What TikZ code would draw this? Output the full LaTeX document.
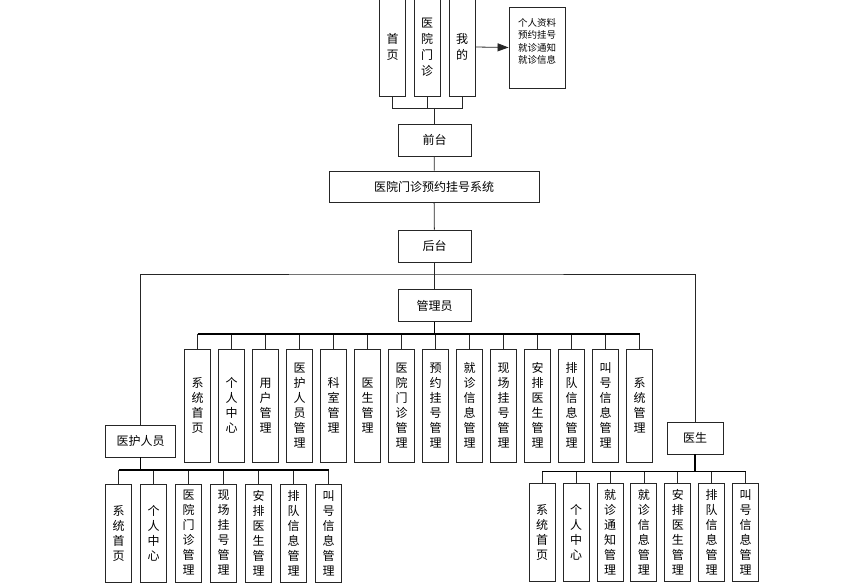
\documentclass[tikz,border=0pt]{standalone}
\usepackage{fontspec}
\setmainfont{Noto Sans CJK SC}
\usetikzlibrary{arrows.meta}
\begin{document}
\begin{tikzpicture}[x=1pt,y=-1pt,
  every node/.style={font=\fontsize{12}{15}\selectfont, inner sep=0pt},
  box/.style={draw=black!85, line width=0.9pt, fill=white, align=center},
  hbox/.style={box, minimum height=32pt},
  vbox/.style={box, minimum width=26pt, minimum height=113pt},
  lbox/.style={box, minimum width=26pt, minimum height=98pt},
  tbox/.style={box, minimum width=26pt, minimum height=98pt, font=\fontsize{12}{16}\selectfont},
  ln/.style={draw=black!85, line width=0.8pt},
  bus/.style={draw=black, line width=1.3pt}]
\useasboundingbox (0,0) rectangle (844,586);

% top menu
\node[tbox] (t1) at (392.5,47) {首\\页};
\node[tbox] (t2) at (427,47) {医\\院\\门\\诊};
\node[tbox] (t3) at (462,47) {我\\的};
\node[box, minimum width=56pt, minimum height=81pt, font=\fontsize{9.5}{12.3}\selectfont] (info) at (537,47.5)
  {\raisebox{5pt}[\height][\depth]{\begin{tabular}{@{}c@{}}个人资料\\预约挂号\\就诊通知\\就诊信息\end{tabular}}};
\draw[ln, -{Triangle[length=11pt,width=8pt]}] (t3.east) -- (info.west);

\node[hbox, minimum width=73pt] (qt) at (434.5,140) {前台};
\node[box, minimum width=210pt, minimum height=31pt] (sys) at (434,186.5) {医院门诊预约挂号系统};
\node[hbox, minimum width=73pt] (ht) at (434.5,246) {后台};
\node[hbox, minimum width=73pt] (adm) at (434.5,305.5) {管理员};
\node[hbox, minimum width=70pt] (nur) at (140.7,441) {医护人员};
\node[hbox, minimum width=56pt] (doc) at (695,438) {医生};

\coordinate (tj) at (434.5,108);
\draw[ln] (t1.south) -- (t1.south |- tj) -- (t3.south |- tj) -- (t3.south);
\draw[ln] (t2.south) -- (t2.south |- tj);
\draw[ln] (tj) -- (qt.north);
\draw[ln] (qt) -- (sys);
\draw[ln] (sys) -- (ht);

\coordinate (bj) at (434.5,274);
\draw[ln] (ht.south) -- (bj);
\draw[ln] (nur.north) |- (bj) -| (doc.north);
\draw[ln] (bj) -- (adm.north);

% admin children
\coordinate (abus) at (434.5,334);
\foreach \t [count=\i from 0] in {
  {系\\统\\首\\页},{个\\人\\中\\心},{用\\户\\管\\理},{医\\护\\人\\员\\管\\理},
  {科\\室\\管\\理},{医\\生\\管\\理},{医\\院\\门\\诊\\管\\理},{预\\约\\挂\\号\\管\\理},
  {就\\诊\\信\\息\\管\\理},{现\\场\\挂\\号\\管\\理},{安\\排\\医\\生\\管\\理},
  {排\\队\\信\\息\\管\\理},{叫\\号\\信\\息\\管\\理},{系\\统\\管\\理}}
{
  \node[vbox] (a\i) at ({197.5+34*\i},405.5) {\t};
  \draw[ln] (a\i.north) -- (a\i.north |- abus);
}
\draw[bus] (a0.north |- abus) -- (a13.north |- abus);
\draw[bus] (adm.south) -- (abus);

% nurse children
\coordinate (nbus) at (140.7,470);
\foreach \t [count=\i from 0] in {
  {系\\统\\首\\页},{个\\人\\中\\心},{医\\院\\门\\诊\\管\\理},{现\\场\\挂\\号\\管\\理},
  {安\\排\\医\\生\\管\\理},{排\\队\\信\\息\\管\\理},{叫\\号\\信\\息\\管\\理}}
{
  \node[lbox] (n\i) at ({118.7+35*\i},533) {\t};
  \draw[ln] (n\i.north) -- (n\i.north |- nbus);
}
\draw[bus] (n0.north |- nbus) -- (n6.north |- nbus);
\draw[bus] (nur.south) -- (nbus);

% doctor children
\coordinate (dbus) at (695,471.5);
\foreach \t [count=\i from 0] in {
  {系\\统\\首\\页},{个\\人\\中\\心},{就\\诊\\通\\知\\管\\理},{就\\诊\\信\\息\\管\\理},
  {安\\排\\医\\生\\管\\理},{排\\队\\信\\息\\管\\理},{叫\\号\\信\\息\\管\\理}}
{
  \node[lbox] (d\i) at ({542.2+33.9*\i},532.7) {\t};
  \draw[ln] (d\i.north) -- (d\i.north |- dbus);
}
\draw[bus] (d0.north |- dbus) -- (d6.north |- dbus);
\draw[bus] (doc.south) -- (dbus);
\end{tikzpicture}
\end{document}
